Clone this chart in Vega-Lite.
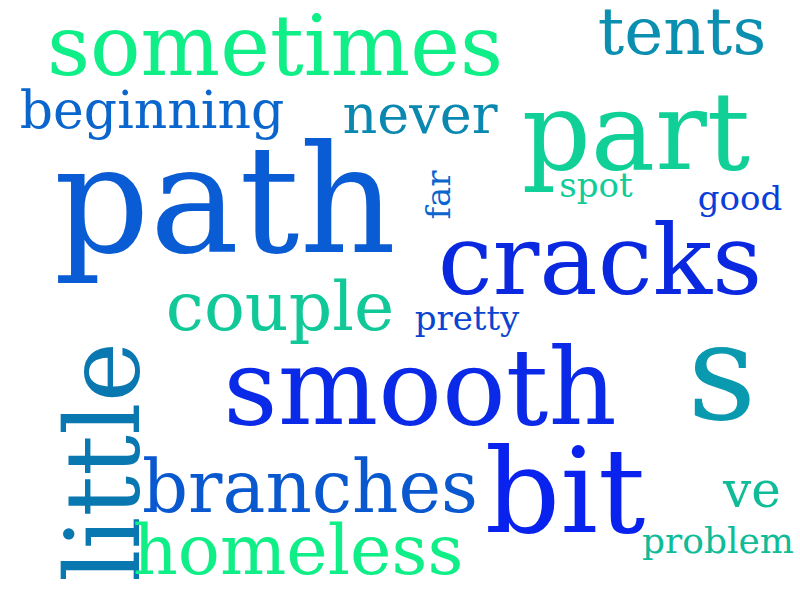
{
  "$schema": "https://vega.github.io/schema/vega-lite/v6.json",
  "width": 800,
  "height": 600,
  "autosize": {"type": "fit", "contains": "padding"},
  "padding": 0,
  "config": {"view": {"stroke": null}},
  "data": {"values": [
    {"word": "sometimes", "x": 275, "y": 50, "freq": 84, "angle": 0},
    {"word": "tents", "x": 682, "y": 34, "freq": 66, "angle": 0},
    {"word": "beginning", "x": 152, "y": 112, "freq": 52, "angle": 0},
    {"word": "never", "x": 420, "y": 117, "freq": 54, "angle": 0},
    {"word": "part", "x": 636, "y": 137, "freq": 108, "angle": 0},
    {"word": "path", "x": 225, "y": 207, "freq": 150, "angle": 0},
    {"word": "far", "x": 440, "y": 195, "freq": 34, "angle": -90},
    {"word": "spot", "x": 596, "y": 187, "freq": 34, "angle": 0},
    {"word": "good", "x": 740, "y": 200, "freq": 34, "angle": 0},
    {"word": "cracks", "x": 600, "y": 265, "freq": 98, "angle": 0},
    {"word": "couple", "x": 280, "y": 310, "freq": 68, "angle": 0},
    {"word": "pretty", "x": 467, "y": 320, "freq": 34, "angle": 0},
    {"word": "smooth", "x": 420, "y": 392, "freq": 106, "angle": 0},
    {"word": "s", "x": 722, "y": 378, "freq": 135, "angle": 0},
    {"word": "little", "x": 108, "y": 462, "freq": 102, "angle": -90},
    {"word": "branches", "x": 310, "y": 490, "freq": 72, "angle": 0},
    {"word": "bit", "x": 565, "y": 497, "freq": 118, "angle": 0},
    {"word": "ve", "x": 752, "y": 492, "freq": 50, "angle": 0},
    {"word": "homeless", "x": 298, "y": 553, "freq": 70, "angle": 0},
    {"word": "problem", "x": 718, "y": 542, "freq": 36, "angle": 0}
  ]},
  "mark": {"type": "text", "font": "DejaVu Serif", "baseline": "middle", "align": "center"},
  "encoding": {
    "x": {"field": "x", "type": "quantitative", "scale": {"domain": [0, 800]}, "axis": null},
    "y": {"field": "y", "type": "quantitative", "scale": {"domain": [600, 0]}, "axis": null},
    "text": {"field": "word"},
    "size": {"field": "freq", "type": "quantitative", "scale": null},
    "angle": {"field": "angle", "type": "quantitative", "scale": null},
    "color": {"field": "word", "type": "nominal", "legend": null, "scale": {
      "domain": ["sometimes","tents","beginning","never","part","path","far","spot","good","cracks","couple","pretty","smooth","s","little","branches","bit","ve","homeless","problem"],
      "range": ["#10ee88","#0a8fb0","#0a66cc","#0a88b0","#10d098","#0a5cd4","#0a66cc","#10cc99","#0a3ed8","#0a28e0","#10c898","#0a44d0","#0a2ae8","#0a9ab0","#0a78b0","#0a58d0","#0a22ee","#10bb98","#10ee88","#10bb98"]
    }}
  }
}
